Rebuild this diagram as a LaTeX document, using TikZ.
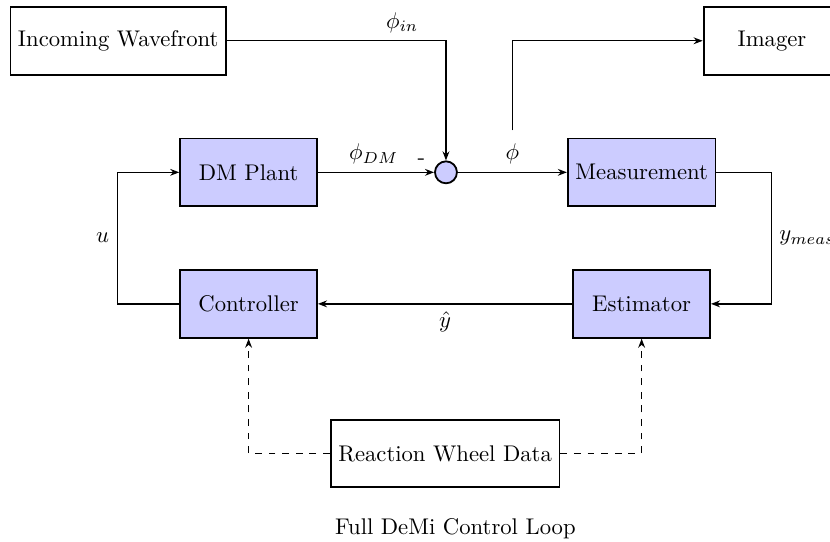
\documentclass[tikz,border=0pt]{standalone}
\usepackage{amsmath,amssymb}
\usepackage{tikz}
\usetikzlibrary{
    arrows.meta,
    positioning,
    calc
}

\begin{document}
\begin{tikzpicture}[
    node distance=0.96cm,
    block/.style={
        rectangle,
        draw,
        thick,
        fill=blue!20,
        minimum width=2.12cm,
        minimum height=1.05cm,
        align=center
    },
    plainblock/.style={
        block,
        fill=white
    },
    sumnode/.style={
        circle,
        draw,
        thick,
        fill=blue!20,
        minimum size=0.34cm,
        inner sep=0pt
    },
    arrow/.style={->,>={Stealth[length=4pt]},semithick}
]
    \useasboundingbox (-6.91,-5.72) rectangle (5.95,2.67);

    % Nodes
    \node[sumnode] (sum) at (0,0) {};
    \node[block,left=1.8cm of sum] (dm) {DM Plant};
    \node[block,right=1.69cm of sum] (meas) {Measurement};
    \node[block,below=of dm] (ctrl) {Controller};
    \node[block,below=of meas] (est) {Estimator};

    \node[plainblock,above=of dm,xshift=-2.02cm] (inc) {Incoming Wavefront};
    \node[plainblock,above=of meas,xshift=2.02cm] (imager) {Imager};

    \coordinate (mid) at ($(ctrl.south)!0.5!(est.south)$);
    \node[plainblock,below=1.24cm of mid] (rwd) {Reaction Wheel Data};
    \node[below=0.34cm of rwd,xshift=0.16cm] (caption) {Full DeMi Control Loop};

    \coordinate (tap) at ($(sum.east)!0.5!(meas.west) + (0,0.65)$);

    % Arrows
    \draw[arrow] (inc) -| node[above,pos=0.4] {$\phi_{in}$} (sum);
    \draw[arrow] (dm) -- node[above,pos=0.48] {$\phi_{DM}$}
        node[above,pos=0.89] {-} (sum);
    \draw[arrow] (sum) -- node[above] {$\phi$} (meas);
    \draw[arrow] (tap) |- (imager);
    \draw[arrow] (meas.east) -- ++(0.85,0) |- node[right,pos=0.25] {$y_{meas}$} (est.east);
    \draw[arrow] (est) -- node[below] {$\hat{y}$} (ctrl);
    \draw[arrow] (ctrl.west) -- ++(-0.96,0) |- node[left,pos=0.25] {$u$} (dm.west);
    \draw[arrow,dashed] (rwd.west) -| (ctrl.south);
    \draw[arrow,dashed] (rwd.east) -| (est.south);
\end{tikzpicture}
\end{document}
